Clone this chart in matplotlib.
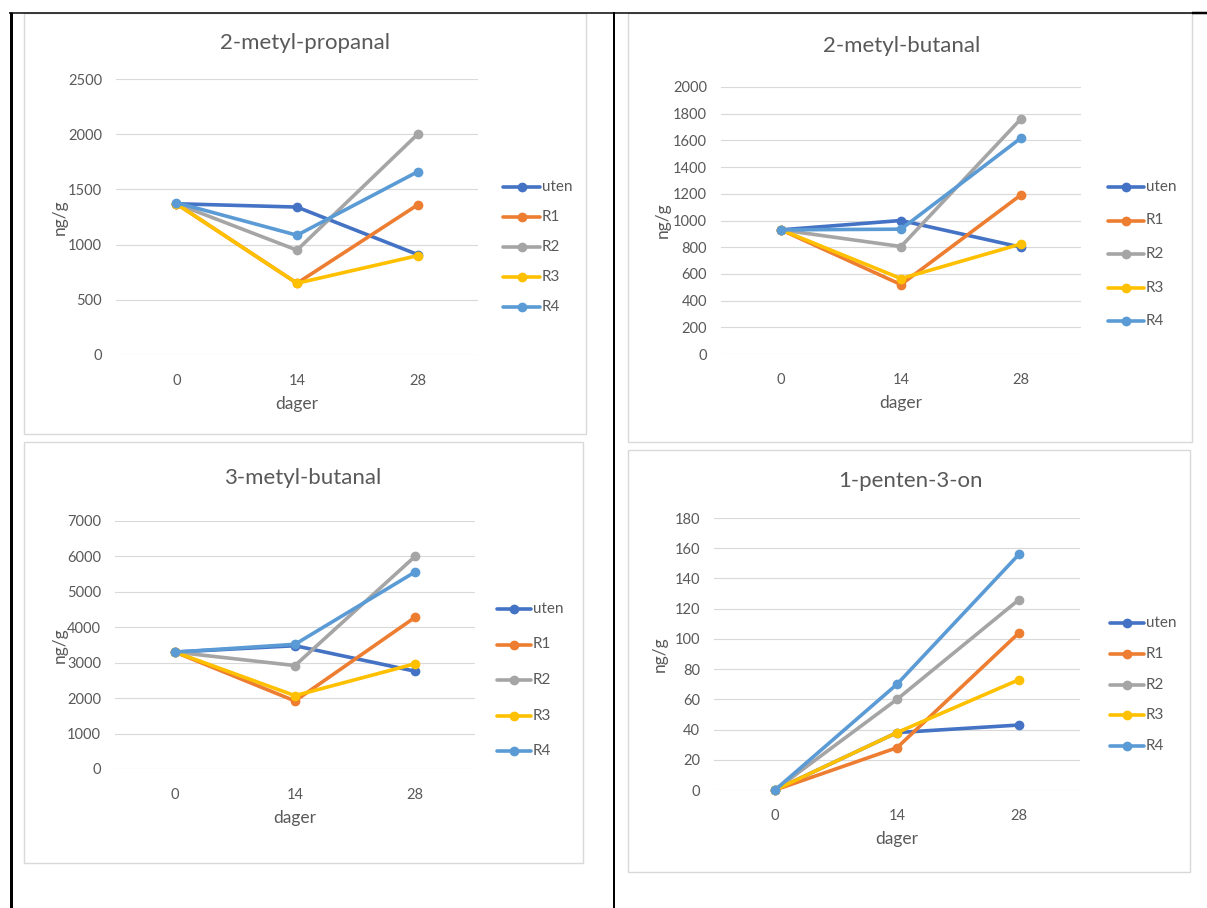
import matplotlib
matplotlib.use('Agg')
import matplotlib.pyplot as plt
from matplotlib.lines import Line2D
from matplotlib.patches import Rectangle

plt.rcParams['font.family'] = ['Lato', 'DejaVu Sans']

W, H = 1207, 908
TXT = '#595959'

# data
days = ['0', '14', '28']
series = ['uten', 'R1', 'R2', 'R3', 'R4']
colors = ['#4472C4', '#ED7D31', '#A5A5A5', '#FFC000', '#5B9BD5']

# ng/g, one row per series (uten, R1, R2, R3, R4), columns = day 0, 14, 28
propanal_2m = [[1370, 1340, 910],
               [1370, 650, 1360],
               [1370, 950, 2000],
               [1370, 650, 900],
               [1380, 1085, 1660]]
butanal_2m = [[930, 1000, 800],
              [930, 520, 1192],
              [930, 805, 1762],
              [930, 565, 824],
              [930, 935, 1618]]
butanal_3m = [[3300, 3480, 2760],
              [3300, 1920, 4280],
              [3300, 2920, 6000],
              [3300, 2070, 2970],
              [3300, 3520, 5560]]
pentenon = [[0, 38, 43],
            [0, 28, 104],
            [0, 60, 126],
            [0, 38, 73],
            [0, 70, 156]]

titles = ['2-metyl-propanal', '2-metyl-butanal', '3-metyl-butanal', '1-penten-3-on']
values = [propanal_2m, butanal_2m, butanal_3m, pentenon]
ymax = [2500, 2000, 7000, 180]
ystep = [500, 200, 1000, 20]

# layout in pixels: box, axes (x0, ytop, x1, ybottom), title (x, y), legend (x, ytop, spacing, len)
layout = [
    dict(box=(24, 13, 586, 434), ax=(116, 79, 478, 355), t=(305, 43), ylx=60,
         leg=(503, 187, 30, 37)),
    dict(box=(628, 13, 1192, 442), ax=(721, 87, 1081, 354), t=(902, 46), ylx=663,
         leg=(1108, 187, 33.5, 36)),
    dict(box=(24, 442, 583, 863), ax=(115, 521, 475, 769), t=(303, 478), ylx=60,
         leg=(497, 609, 35.5, 34)),
    dict(box=(628, 450, 1190, 872), ax=(714, 518, 1080, 790), t=(910, 481), ylx=660,
         leg=(1110, 623, 30.8, 34)),
]


def fx(x):
    return x / W


def fy(y):
    return 1 - y / H


fig = plt.figure(figsize=(W / 100, H / 100), dpi=100)

for i in range(4):
    L = layout[i]
    bx0, by0, bx1, by1 = L['box']
    fig.add_artist(Rectangle((fx(bx0), fy(by1)), (bx1 - bx0) / W, (by1 - by0) / H,
                             transform=fig.transFigure, fill=False,
                             edgecolor='#D9D9D9', lw=1.0))
    x0, yt, x1, yb = L['ax']
    ax = fig.add_axes([fx(x0), fy(yb), (x1 - x0) / W, (yb - yt) / H])
    xs = list(range(len(days)))
    for name, vals, c in zip(series, values[i], colors):
        ax.plot(xs, vals, color=c, lw=2.6, marker='o', markersize=6,
                solid_joinstyle='round', solid_capstyle='round', label=name,
                clip_on=False)
    ax.set_xlim(-0.5, 2.5)
    ax.set_ylim(0, ymax[i])
    ax.set_yticks(range(0, ymax[i] + 1, ystep[i]))
    ax.set_xticks(xs)
    ax.set_xticklabels(days)
    for s in ax.spines.values():
        s.set_visible(False)
    ax.grid(axis='y', color='#D9D9D9', lw=0.8)
    ax.set_axisbelow(True)
    ax.tick_params(length=0, labelsize=10.5, colors=TXT)
    ax.tick_params(axis='x', pad=14)
    ax.tick_params(axis='y', pad=10)

    cx = (x0 + x1) / 2
    tx, ty = L['t']
    fig.text(fx(tx), fy(ty), titles[i], ha='center', va='center',
             fontsize=16, color=TXT)
    fig.text(fx(cx), fy(yb + 49), 'dager', ha='center', va='center',
             fontsize=12.5, color=TXT)
    fig.text(fx(L['ylx']), fy((yt + yb) / 2), 'ng/g', ha='center', va='center',
             rotation=90, fontsize=12.5, color=TXT)

    # legend drawn by hand to the right of the plot
    lx, ly, sp, ln = L['leg']
    for k, (name, c) in enumerate(zip(series, colors)):
        y = ly + k * sp
        fig.add_artist(Line2D([fx(lx), fx(lx + ln / 2), fx(lx + ln)], [fy(y)] * 3,
                              transform=fig.transFigure, color=c, lw=2.6,
                              marker='o', markersize=6, markevery=[1],
                              solid_capstyle='round'))
        fig.text(fx(lx + ln + 2), fy(y), name, ha='left', va='center',
                 fontsize=11, color=TXT)


# table lines
def hline(y, xa, xb, w):
    fig.add_artist(Line2D([fx(xa), fx(xb)], [fy(y), fy(y)], transform=fig.transFigure,
                          color='black', lw=w * 0.72, solid_capstyle='butt'))


def vline(x, ya, yb, w):
    fig.add_artist(Line2D([fx(x), fx(x)], [fy(ya), fy(yb)], transform=fig.transFigure,
                          color='black', lw=w * 0.72, solid_capstyle='butt'))


hline(12.5, 9, 1207, 1.5)
hline(12.5, 1192, 1207, 2.5)
vline(10.5, 11.5, 908, 3)
vline(613.5, 11.5, 908, 2)

fig.savefig('out.png', dpi=100, facecolor='white')
